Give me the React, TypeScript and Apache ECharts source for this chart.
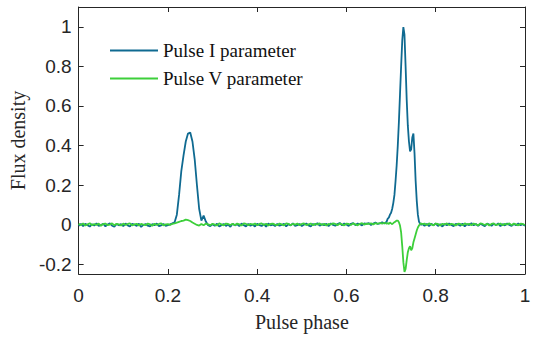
import React, { useEffect, useRef } from "react";
import * as echarts from "echarts";

// Pulse phase grid (coarse before the main pulse, fine across it, coarse after)
const phaseLow = [
  0.0, 0.005, 0.01, 0.015, 0.02, 0.025, 0.03, 0.035, 0.04, 0.045,
  0.05, 0.055, 0.06, 0.065, 0.07, 0.075, 0.08, 0.085, 0.09, 0.095,
  0.1, 0.105, 0.11, 0.115, 0.12, 0.125, 0.13, 0.135, 0.14, 0.145,
  0.15, 0.155, 0.16, 0.165, 0.17, 0.175, 0.18, 0.185, 0.19, 0.195,
  0.2, 0.205, 0.21, 0.215, 0.22, 0.225, 0.23, 0.235, 0.24, 0.245,
  0.25, 0.255, 0.26, 0.265, 0.27, 0.275, 0.28, 0.285, 0.29, 0.295,
  0.3, 0.305, 0.31, 0.315, 0.32, 0.325, 0.33, 0.335, 0.34, 0.345,
  0.35, 0.355, 0.36, 0.365, 0.37, 0.375, 0.38, 0.385, 0.39, 0.395,
  0.4, 0.405, 0.41, 0.415, 0.42, 0.425, 0.43, 0.435, 0.44, 0.445,
  0.45, 0.455, 0.46, 0.465, 0.47, 0.475, 0.48, 0.485, 0.49, 0.495,
  0.5, 0.505, 0.51, 0.515, 0.52, 0.525, 0.53, 0.535, 0.54, 0.545,
  0.55, 0.555, 0.56, 0.565, 0.57, 0.575, 0.58, 0.585, 0.59, 0.595,
  0.6, 0.605, 0.61, 0.615, 0.62, 0.625, 0.63, 0.635, 0.64, 0.645,
  0.65, 0.655, 0.66, 0.665, 0.67, 0.675, 0.68, 0.685,
];
const phaseFine = [
  0.69, 0.6925, 0.695, 0.6975, 0.7, 0.7025, 0.705, 0.7075, 0.71, 0.7125,
  0.715, 0.7175, 0.72, 0.7225, 0.725, 0.7275, 0.73, 0.7325, 0.735, 0.7375,
  0.74, 0.7425, 0.745, 0.7475, 0.75, 0.7525, 0.755, 0.7575, 0.76, 0.7625,
  0.765, 0.7675, 0.77,
];
const phaseHigh = [
  0.775, 0.78, 0.785, 0.79, 0.795, 0.8, 0.805, 0.81, 0.815, 0.82,
  0.825, 0.83, 0.835, 0.84, 0.845, 0.85, 0.855, 0.86, 0.865, 0.87,
  0.875, 0.88, 0.885, 0.89, 0.895, 0.9, 0.905, 0.91, 0.915, 0.92,
  0.925, 0.93, 0.935, 0.94, 0.945, 0.95, 0.955, 0.96, 0.965, 0.97,
  0.975, 0.98, 0.985, 0.99, 0.995, 1.0,
];

// Pulse I parameter
const pulseILow = [
  -0.006, 0.003, -0.008, 0.004, -0.003, -0.01, 0.002, -0.005, 0.006, -0.007,
  -0.002, 0.004, -0.009, 0.0, 0.006, -0.006, -0.011, 0.003, -0.004, 0.002,
  -0.008, 0.005, -0.004, -0.01, 0.003, 0.0, -0.007, 0.004, -0.012, -0.002,
  0.003, -0.006, -0.009, 0.002, -0.003, 0.005, -0.008, -0.004, 0.003, -0.007,
  -0.003, 0.001, 0.006, 0.012, 0.05, 0.15, 0.27, 0.35, 0.42, 0.46,
  0.465, 0.42, 0.33, 0.2, 0.08, 0.02, 0.045, 0.015, -0.003, -0.008,
  0.002, -0.006, 0.004, -0.01, -0.003, 0.003, -0.007, 0.0, -0.011, 0.004,
  -0.004, 0.002, -0.008, 0.005, -0.003, -0.009, 0.003, -0.006, 0.0, -0.01,
  0.004, -0.003, -0.007, 0.002, -0.011, 0.005, -0.004, 0.0, -0.008, 0.003,
  -0.006, -0.002, 0.004, -0.009, 0.002, -0.004, 0.006, -0.007, -0.003, 0.003,
  -0.008, 0.0, 0.005, -0.004, -0.01, 0.003, -0.002, 0.007, -0.006, 0.002,
  -0.003, 0.004, -0.008, 0.006, -0.002, -0.006, 0.003, 0.008, -0.004, 0.005,
  0.0, -0.007, 0.004, 0.007, -0.003, 0.005, 0.002, -0.004, 0.006, 0.003,
  0.007, -0.002, 0.005, 0.01, 0.003, 0.006, 0.012, 0.005,
];
const pulseIFine = [
  0.015, 0.03, 0.035, 0.05, 0.06, 0.08, 0.11, 0.15, 0.22, 0.3,
  0.4, 0.52, 0.66, 0.8, 0.93, 0.998, 0.96, 0.8, 0.63, 0.5,
  0.42, 0.37, 0.38, 0.44, 0.46, 0.36, 0.22, 0.12, 0.05, 0.015,
  0.004, -0.002, 0.003,
];
const pulseIHigh = [
  -0.006, 0.003, -0.008, 0.004, -0.003, 0.005, -0.007, 0.002, -0.01, 0.003,
  -0.004, 0.006, -0.002, -0.008, 0.004, 0.0, -0.006, 0.005, -0.009, 0.002,
  -0.003, 0.007, -0.004, 0.003, -0.007, 0.004, -0.002, -0.008, 0.005, 0.0,
  -0.006, 0.004, -0.003, 0.006, -0.008, 0.002, -0.004, 0.005, -0.002, -0.007,
  0.003, -0.004, 0.005, -0.003, 0.002, -0.006,
];

// Pulse V parameter
const pulseVLow = [
  0.004, -0.003, 0.006, -0.005, 0.001, 0.007, -0.004, 0.003, -0.002, 0.005,
  -0.006, 0.003, 0.005, -0.003, 0.0, 0.006, -0.004, 0.004, 0.001, -0.005,
  0.005, -0.002, 0.003, 0.006, -0.004, 0.001, 0.004, -0.005, 0.003, 0.0,
  -0.003, 0.005, 0.001, -0.006, 0.004, -0.002, 0.003, 0.006, -0.004, 0.001,
  0.002, -0.002, 0.004, 0.006, 0.01, 0.014, 0.018, 0.02, 0.025, 0.022,
  0.018, 0.01, 0.004, -0.002, -0.005, 0.003, -0.004, 0.005, 0.001, -0.003,
  0.004, 0.0, -0.005, 0.006, 0.001, -0.004, 0.005, 0.003, -0.002, 0.004,
  -0.003, 0.005, 0.001, -0.005, 0.006, 0.003, -0.004, 0.004, 0.0, 0.005,
  -0.004, 0.003, 0.006, -0.002, 0.004, -0.005, 0.003, 0.005, 0.0, -0.003,
  0.005, 0.001, -0.004, 0.006, 0.003, -0.003, 0.004, 0.0, 0.005, -0.004,
  0.003, 0.006, -0.003, 0.001, 0.005, -0.004, 0.004, 0.0, 0.006, -0.002,
  0.004, -0.005, 0.003, 0.0, 0.006, 0.003, -0.003, 0.005, 0.001, -0.004,
  0.005, 0.003, -0.002, 0.006, 0.001, -0.004, 0.004, 0.007, 0.0, 0.005,
  0.003, 0.006, 0.001, 0.007, 0.004, 0.008, 0.005, 0.009,
];
const pulseVFine = [
  0.004, 0.008, 0.003, 0.01, 0.006, 0.002, 0.007, 0.012, 0.016, 0.02,
  0.02, 0.012, -0.005, -0.04, -0.11, -0.19, -0.24, -0.225, -0.18, -0.14,
  -0.12, -0.11, -0.13, -0.12, -0.09, -0.07, -0.05, -0.03, -0.015, -0.005,
  0.003, 0.006, 0.002,
];
const pulseVHigh = [
  0.005, -0.003, 0.006, 0.001, -0.004, 0.005, 0.003, -0.005, 0.004, 0.0,
  0.006, -0.003, 0.004, 0.001, -0.005, 0.005, 0.003, -0.004, 0.006, 0.0,
  0.004, -0.003, 0.005, 0.001, -0.004, 0.006, 0.003, -0.002, 0.004, -0.005,
  0.003, 0.006, -0.003, 0.001, 0.005, -0.004, 0.004, 0.0, 0.006, -0.003,
  0.005, 0.001, -0.004, 0.004, 0.003, -0.002,
];

const seriesNames = ["Pulse I parameter", "Pulse V parameter"];
const xTicks = [0, 0.2, 0.4, 0.6, 0.8, 1];
const yTicks = [-0.2, 0, 0.2, 0.4, 0.6, 0.8, 1];

export default function App() {
  const ref = useRef<HTMLDivElement>(null);

  useEffect(() => {
    if (!ref.current) return;
    const chart = echarts.init(ref.current, null, { renderer: "svg" });
    const phase = [...phaseLow, ...phaseFine, ...phaseHigh];
    const pulseI = [...pulseILow, ...pulseIFine, ...pulseIHigh];
    const pulseV = [...pulseVLow, ...pulseVFine, ...pulseVHigh];
    const pairs = (v: number[]) => phase.map((p, i) => [p, v[i]]);

    const axisColor = "#262626";
    const lineStyle = { color: axisColor, width: 1 };
    const tickStyle = { inside: true, length: 5, lineStyle: { color: axisColor, width: 1 } };
    const sans = "'Liberation Sans', Arial, sans-serif";
    const serif = "'Liberation Serif', 'Times New Roman', serif";

    chart.setOption({
      animation: false,
      backgroundColor: "#ffffff",
      grid: { left: 77, right: 9, top: 7, bottom: 58, containLabel: false },
      legend: {
        orient: "vertical",
        left: 105,
        top: 36,
        itemWidth: 48,
        itemHeight: 2,
        itemGap: 9,
        icon: "rect",
        data: seriesNames,
        textStyle: { fontFamily: serif, fontSize: 19, color: "#111", lineHeight: 19 },
      },
      xAxis: [
        {
          type: "value",
          min: 0,
          max: 1,
          interval: 0.2,
          position: "bottom",
          axisLine: { show: true, onZero: false, lineStyle },
          axisTick: { show: true, ...tickStyle },
          axisLabel: {
            fontFamily: sans,
            fontSize: 19,
            color: axisColor,
            margin: 12,
            customValues: xTicks,
          },
          splitLine: { show: false },
          name: "Pulse phase",
          nameLocation: "middle",
          nameGap: 38,
          nameTextStyle: { fontFamily: serif, fontSize: 20, color: axisColor },
        },
        {
          type: "value",
          min: 0,
          max: 1,
          interval: 0.2,
          position: "top",
          axisLine: { show: true, onZero: false, lineStyle },
          axisTick: { show: true, ...tickStyle },
          axisLabel: { show: false },
          splitLine: { show: false },
        },
      ],
      yAxis: [
        {
          type: "value",
          min: -0.25,
          max: 1.1,
          position: "left",
          axisLine: { show: true, onZero: false, lineStyle },
          axisTick: { show: true, ...tickStyle, customValues: yTicks },
          axisLabel: {
            fontFamily: sans,
            fontSize: 19,
            color: axisColor,
            margin: 7,
            customValues: yTicks,
          },
          splitLine: { show: false },
          name: "Flux density",
          nameLocation: "middle",
          nameGap: 42,
          nameRotate: 90,
          nameTextStyle: { fontFamily: serif, fontSize: 20, color: axisColor },
        },
        {
          type: "value",
          min: -0.25,
          max: 1.1,
          position: "right",
          axisLine: { show: true, onZero: false, lineStyle },
          axisTick: { show: true, ...tickStyle, customValues: yTicks },
          axisLabel: { show: false, customValues: yTicks },
          splitLine: { show: false },
        },
      ],
      series: [
        {
          name: seriesNames[0],
          type: "line",
          xAxisIndex: 0,
          yAxisIndex: 0,
          data: pairs(pulseI),
          symbol: "none",
          showSymbol: false,
          lineStyle: { color: "#0f6a91", width: 1.8 },
          itemStyle: { color: "#0f6a91" },
          z: 2,
        },
        {
          name: seriesNames[1],
          type: "line",
          xAxisIndex: 0,
          yAxisIndex: 0,
          data: pairs(pulseV),
          symbol: "none",
          showSymbol: false,
          lineStyle: { color: "#3dcf3a", width: 1.8 },
          itemStyle: { color: "#3dcf3a" },
          z: 3,
        },
      ],
    });

    return () => chart.dispose();
  }, []);

  return (
    <div
      ref={ref}
      style={{ position: "absolute", left: 0, top: 0, width: 534, height: 337 }}
    />
  );
}
